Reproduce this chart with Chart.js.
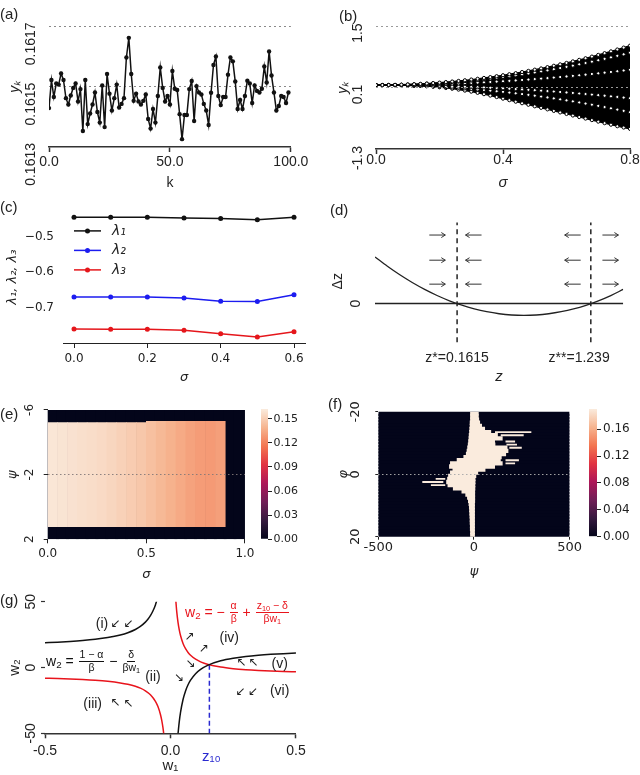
<!DOCTYPE html>
<html><head><meta charset="utf-8">
<script src="https://cdn.jsdelivr.net/npm/chart.js@4.4.1/dist/chart.umd.min.js"></script>
<style>
html,body{margin:0;padding:0;background:#fff;}
#wrap{position:relative;width:640px;height:775px;overflow:hidden;background:#fff;}
canvas{position:absolute;}
.plab{position:absolute;font:15px 'Liberation Sans',Arial,sans-serif;line-height:16px;color:#222;}
.eq{position:absolute;font:14px 'Liberation Sans',Arial,sans-serif;white-space:nowrap;display:flex;align-items:center;}
.fr{display:inline-flex;flex-direction:column;align-items:center;font-size:10.5px;line-height:1.1;margin:0 1px;}
.fr>span:first-child{border-bottom:1px solid currentColor;padding:0 1px;}
sub{font-size:0.7em;vertical-align:-0.25em;line-height:0;}
</style></head>
<body><div id="wrap">
<canvas id="cA"></canvas><canvas id="cB"></canvas><canvas id="cC"></canvas><canvas id="cD"></canvas>
<canvas id="cE"></canvas><canvas id="cEbar"></canvas><canvas id="cF"></canvas><canvas id="cFbar"></canvas>
<canvas id="cG"></canvas>
<div class="plab" style="left:0;top:6px">(a)</div>
<div class="plab" style="left:339px;top:8px">(b)</div>
<div class="plab" style="left:0;top:199px">(c)</div>
<div class="plab" style="left:330px;top:202px">(d)</div>
<div class="plab" style="left:0;top:406px">(e)</div>
<div class="plab" style="left:328px;top:396px">(f)</div>
<div class="plab" style="left:0;top:592px">(g)</div>
<div class="eq" style="left:46px;top:647px;height:28px;color:#111">
 <span>w<sub>2</sub>&nbsp;=&nbsp;</span><span class="fr"><span>1 − α</span><span>β</span></span><span>&nbsp;−&nbsp;</span><span class="fr"><span>δ</span><span>βw<sub>1</sub></span></span>
</div>
<div class="eq" style="left:185px;top:598px;height:28px;color:#e8141c">
 <span>w<sub>2</sub>&nbsp;=&nbsp;−&nbsp;</span><span class="fr"><span>α</span><span>β</span></span><span>&nbsp;+&nbsp;</span><span class="fr"><span>z<sub>10</sub> − δ</span><span>βw<sub>1</sub></span></span>
</div>
</div>
<script>
// ---------------- DATA ----------------
// (a)
const kA = [0,1,2,3,4,5,6,7,8,9,10,11,12,13,14,15,16,17,18,19,20,21,22,23,24,25,26,27,28,29,30,31,32,33,34,35,36,37,38,39,40,41,42,43,44,45,46,47,48,49,50,51,52,53,54,55,56,57,58,59,60,61,62,63,64,65,66,67,68,69,70,71,72,73,74,75,76,77,78,79,80,81,82,83,84,85,86,87,88,89,90,91,92,93,94,95,96,97,98,99];
const yA = [0.161429,0.161522,0.161466,0.161511,0.161507,0.161544,0.161522,0.161462,0.161441,0.161471,
0.161496,0.161511,0.161451,0.161492,0.161353,0.161522,0.161376,0.161411,0.161441,0.161481,
0.161416,0.161381,0.161504,0.161366,0.161542,0.161477,0.161421,0.161462,0.161507,0.161431,
0.161443,0.161462,0.161597,0.161662,0.161542,0.161453,0.161477,0.161451,0.161441,0.161453,
0.161474,0.161393,0.161361,0.161426,0.161381,0.161469,0.161564,0.161496,0.161451,0.161469,
0.161441,0.161552,0.161493,0.161489,0.161409,0.161326,0.161406,0.161406,0.161492,0.161519,
0.161386,0.161502,0.161481,0.161474,0.161443,0.161421,0.161373,0.161480,0.161572,0.161600,
0.161469,0.161439,0.161466,0.161466,0.161540,0.161597,0.161584,0.161517,0.161426,0.161456,
0.161426,0.161469,0.161520,0.161511,0.161446,0.161504,0.161486,0.161481,0.161493,0.161567,
0.161514,0.161617,0.161537,0.161481,0.161421,0.161436,0.161469,0.161466,0.161446,0.161481];
const xTicksA = [0, 50, 100];
const yTicksA = [0.1613, 0.1615, 0.1617];

// (b)
const sigmaB = [0,0.02,0.04,0.06,0.08,0.1,0.12,0.14,0.16,0.18,0.2,0.22,0.24,0.26,0.28,0.3,0.32,0.34,0.36,0.38,0.4,0.42,0.44,0.46,0.48,0.5,0.52,0.54,0.56,0.58,0.6,0.62,0.64,0.66,0.68,0.7,0.72,0.74,0.76,0.78,0.8];
const yB1 = [0.16,0.161,0.162,0.165,0.169,0.174,0.18,0.188,0.196,0.206,0.216,0.228,0.241,0.255,0.27,0.287,0.304,0.323,0.342,0.363,0.385,0.408,0.432,0.458,0.484,0.512,0.54,0.57,0.601,0.633,0.666,0.701,0.736,0.773,0.81,0.849,0.889,0.93,0.972,1.016,1.06];
const yB2 = [0.16,0.16,0.162,0.164,0.167,0.172,0.177,0.183,0.19,0.197,0.206,0.216,0.227,0.238,0.251,0.264,0.278,0.294,0.31,0.327,0.345,0.364,0.384,0.405,0.426,0.449,0.473,0.497,0.523,0.549,0.576,0.604,0.634,0.664,0.695,0.727,0.759,0.793,0.828,0.863,0.9];
const yB3 = [0.16,0.16,0.161,0.162,0.164,0.165,0.168,0.171,0.174,0.178,0.182,0.186,0.192,0.197,0.203,0.209,0.216,0.223,0.231,0.239,0.248,0.256,0.266,0.276,0.286,0.297,0.308,0.319,0.332,0.344,0.357,0.37,0.384,0.398,0.413,0.428,0.444,0.459,0.476,0.493,0.51];
const yB4 = [0.16,0.16,0.159,0.158,0.157,0.155,0.153,0.151,0.148,0.145,0.141,0.137,0.133,0.128,0.123,0.118,0.112,0.106,0.099,0.092,0.085,0.077,0.069,0.061,0.052,0.043,0.033,0.023,0.013,0.002,-0.009,-0.02,-0.032,-0.044,-0.057,-0.07,-0.083,-0.097,-0.111,-0.125,-0.14];
const yB5 = [0.16,0.16,0.158,0.157,0.154,0.15,0.146,0.141,0.135,0.129,0.121,0.113,0.104,0.095,0.084,0.073,0.061,0.048,0.034,0.02,0.005,-0.011,-0.028,-0.045,-0.063,-0.082,-0.102,-0.122,-0.144,-0.166,-0.189,-0.212,-0.237,-0.262,-0.288,-0.315,-0.342,-0.37,-0.4,-0.429,-0.46];
const yB6 = [0.16,0.16,0.159,0.158,0.156,0.153,0.148,0.142,0.134,0.124,0.11,0.094,0.076,0.056,0.034,0.01,-0.018,-0.048,-0.08,-0.114,-0.15,-0.185,-0.22,-0.255,-0.29,-0.325,-0.36,-0.395,-0.43,-0.465,-0.5,-0.535,-0.57,-0.605,-0.64,-0.675,-0.71,-0.745,-0.78,-0.81,-0.84];
const xTicksB = [0, 0.4, 0.8];
const yTicksB = [-1.3, 0.1, 1.5];

// (c)
const sigmaC = [0, 0.1, 0.2, 0.3, 0.4, 0.5, 0.6];
const lam1 = [-0.443,-0.443,-0.443,-0.445,-0.447,-0.450,-0.443];
const lam2 = [-0.670,-0.670,-0.670,-0.673,-0.682,-0.683,-0.664];
const lam3 = [-0.761,-0.762,-0.762,-0.765,-0.775,-0.784,-0.769];
const lamNames = ['λ₁','λ₂','λ₃'];
const xTicksC = [0, 0.2, 0.4, 0.6];
const yTicksC = [-0.7, -0.6, -0.5];

// (d)
const zD  = [-0.5,-0.4,-0.3,-0.2,-0.1,0,0.1,0.2,0.3,0.4,0.5,0.6,0.7,0.8,0.9,1.0,1.1,1.2,1.3,1.4,1.5];
const dzD = [1.150,0.920,0.710,0.520,0.350,0.200,0.070,-0.040,-0.130,-0.200,-0.250,-0.280,-0.290,-0.280,-0.250,-0.200,-0.131,-0.041,0.069,0.199,0.349];
const fixedPtsD = [0.1615, 1.239];
const fixedLabelsD = ['z*=0.1615', 'z**=1.239      '];
const dashSpanD = [-0.95, 2.0];
const arrowZD = [0.002, 0.294, 1.093, 1.397];
const arrowDirD = [1, -1, -1, 1];
const arrowRowD = [1.69, 1.07, 0.48];

// (e)
const sigmaColsE = [0.025,0.075,0.125,0.175,0.225,0.275,0.325,0.375,0.425,0.475,0.525,0.575,0.625,0.675,0.725,0.775,0.825,0.875,0.925,0.975];
const heatValE   = [0.160,0.159,0.158,0.157,0.156,0.155,0.153,0.151,0.149,0.147,0.144,0.141,0.138,0.135,0.132,0.130,0.129,0.131,null,null];
const topEdgeE   = [-5.22,-5.22,-5.22,-5.22,-5.22,-5.22,-5.22,-5.22,-5.22,-5.22,-5.3,-5.3,-5.3,-5.3,-5.3,-5.3,-5.3,-5.3,null,null];
const botEdgeE   = [1.22,1.22,1.22,1.22,1.22,1.22,1.22,1.22,1.22,1.22,1.22,1.22,1.22,1.22,1.22,1.22,1.22,1.22,null,null];
const psiSpanE = [-6, 2];
const xTicksE = [0, 0.5, 1];
const yTicksE = [-6, -2, 2];
const vmaxE = 0.162;
const cbTicksE = [0, 0.03, 0.06, 0.09, 0.12, 0.15];

// (f)
const phiRowsF = [-19.5,-18.5,-17.5,-16.5,-15.5,-14.5,-13.5,-12.5,-11.5,-10.5,-9.5,-8.5,-7.5,-6.5,-5.5,-4.5,-3.5,-2.5,-1.5,-0.5,0.5,1.5,2.5,3.5,4.5,5.5,6.5,7.5,8.5,9.5,10.5,11.5,12.5,13.5,14.5,15.5,16.5,17.5,18.5,19.5];
const mainLF = [-20,-20,-20,-22,-22,-24,-25,-27,-28,-30,-32,-35,-38,-42,-55,-90,-125,-130,-112,-125,-135,-140,-145,-138,-110,-65,-45,-36,-31,-28,-26,-25,-24,-23,-22,-22,-21,-21,-20,-20];
const mainRF = [25,25,27,32,42,58,90,125,150,110,112,175,180,168,145,140,150,110,60,22,12,8,8,7,7,6,6,6,6,5,5,5,5,5,5,5,5,5,5,5];
const fingerLF = [null,null,null,null,null,null,110,140,null,165,170,185,null,null,null,165,165,null,null,null,null,-200,-270,-225,null,null,null,null,null,null,null,null,null,null,null,null,null,null,null,null];
const fingerRF = [null,null,null,null,null,null,300,260,null,215,225,250,null,null,null,235,215,null,null,null,null,-150,-160,-150,null,null,null,null,null,null,null,null,null,null,null,null,null,null,null,null];
const psiSpanF = [-500, 500];
const xTicksF = [-500, 0, 500];
const yTicksF = [-20, 0, 20];
const vmaxF = 0.19;
const cbTicksF = [0, 0.04, 0.08, 0.12, 0.16];

// (g)
const w1BlackL = [-0.5,-0.45,-0.4,-0.35,-0.3,-0.25,-0.2,-0.17,-0.14,-0.12,-0.1,-0.09,-0.08,-0.07,-0.06,-0.055];
const w2BlackL = [18.82,19.26,19.8,20.5,21.43,22.74,24.7,26.43,28.9,31.23,34.5,36.68,39.4,42.9,47.57,50.54];
const w1BlackR = [0.03,0.035,0.04,0.05,0.06,0.07,0.08,0.1,0.12,0.15,0.2,0.25,0.3,0.35,0.4,0.45,0.5];
const w2BlackR = [-50.43,-41.1,-34.1,-24.3,-17.77,-13.1,-9.6,-4.7,-1.43,1.83,5.1,7.06,8.37,9.3,10.0,10.54,10.98];
const w1RedR = [0.021,0.025,0.03,0.035,0.04,0.05,0.06,0.07,0.08,0.1,0.12,0.15,0.2,0.25,0.3,0.35,0.4,0.45,0.5];
const w2RedR = [51.44,42.3,34.3,28.59,24.3,18.3,14.3,11.44,9.3,6.3,4.3,2.3,0.3,-0.9,-1.7,-2.27,-2.7,-3.03,-3.3];
const w1RedL = [-0.5,-0.45,-0.4,-0.35,-0.3,-0.25,-0.2,-0.17,-0.14,-0.12,-0.1,-0.08,-0.06,-0.05,-0.04,-0.035,-0.03,-0.026];
const w2RedL = [-8.1,-8.37,-8.7,-9.13,-9.7,-10.5,-11.7,-12.76,-14.27,-15.7,-17.7,-20.7,-25.7,-29.7,-35.7,-39.99,-45.7,-51.85];
const z10G = 0.155, z10W2G = 2.1;
const regionLabelsG = ['(i)','(ii)','(iii)','(iv)','(v)','(vi)'];
const regionW1G = [-0.273,-0.07,-0.31,0.234,0.435,0.435];
const regionW2G = [33,-7.6,-27.6,22.3,2.6,-17.7];
const arrowGlyphG = ['↙','↙','↖','↖','↗','↗','↘','↘','↖','↖','↙','↙'];
const arrowW1G = [-0.22,-0.168,-0.22,-0.168,0.077,0.134,0.081,0.035,0.282,0.33,0.278,0.328];
const arrowW2G = [33.2,33.2,-26.8,-27.6,23.3,14,3,-7.6,3.8,3.8,-18.2,-18.2];
const xTicksG = [-0.5, 0, 0.5];
const yTicksG = [-50, 0, 50];

// ---------------- HELPERS ----------------
const RF = "'Liberation Sans', Arial, sans-serif";
const MF = "'DejaVu Sans', sans-serif";
Chart.defaults.animation = false;
Chart.defaults.responsive = false;
Chart.defaults.devicePixelRatio = 1;
Chart.defaults.events = [];
Chart.defaults.color = '#222';
Chart.defaults.plugins.legend.display = false;
Chart.defaults.plugins.tooltip.enabled = false;

function setupCanvas(id, L, T, W, H){
  const c = document.getElementById(id);
  c.width = W; c.height = H;
  c.style.left = L + 'px'; c.style.top = T + 'px';
  c.style.width = W + 'px'; c.style.height = H + 'px';
  return c;
}
const fixW = w => s => { s.width = w; };
const fixH = h => s => { s.height = h; };
const setTicks = vals => s => { s.ticks = vals.map(v => ({value: v})); };
const pts = (xs, ys) => xs.map((x, i) => ({x: x, y: ys[i]}));

const ROCKET = [[0,[3,5,26]],[1/7,[53,25,62]],[2/7,[112,31,87]],[3/7,[173,23,89]],[4/7,[225,51,66]],[5/7,[243,118,81]],[6/7,[246,180,143]],[1,[250,235,221]]];
function rocket(t){
  t = Math.max(0, Math.min(1, t));
  for (let i = 1; i < ROCKET.length; i++){
    if (t <= ROCKET[i][0]){
      const t0 = ROCKET[i-1][0], c0 = ROCKET[i-1][1], t1 = ROCKET[i][0], c1 = ROCKET[i][1];
      const f = (t - t0) / (t1 - t0);
      return 'rgb(' + c0.map((v, j) => Math.round(v + (c1[j] - v) * f)).join(',') + ')';
    }
  }
  return 'rgb(250,235,221)';
}
function rocketGradient(ctx){
  const ch = ctx.chart, ca = ch.chartArea;
  if (!ca) return '#000';
  const g = ch.ctx.createLinearGradient(0, ca.bottom, 0, ca.top);
  ROCKET.forEach(([t, c]) => g.addColorStop(t, 'rgb(' + c.join(',') + ')'));
  return g;
}

// ---------------- (a) ----------------
new Chart(setupCanvas('cA', 0, 0, 310, 192), {
  type: 'line',
  data: { datasets: [{ data: pts(kA, yA), borderColor: '#111', borderWidth: 1.5, pointRadius: 2.2,
    pointBackgroundColor: '#111', pointBorderWidth: 0, tension: 0 }] },
  options: {
    layout: { padding: {left: 0, top: 14, right: 17, bottom: 0}, autoPadding: false },
    scales: {
      x: { type: 'linear', min: 0, max: 100, afterBuildTicks: setTicks(xTicksA), afterFit: fixH(45),
        ticks: { callback: v => v.toFixed(1), font: {family: RF, size: 14}, padding: 1.6, maxRotation: 0, autoSkip: false, color: '#222' },
        grid: { drawOnChartArea: false, drawTicks: true, tickLength: 5, tickWidth: 1.5, tickColor: '#333' },
        border: { display: true, color: '#333', width: 1.5 },
        title: { display: true, text: 'k', font: {family: RF, size: 14}, padding: {top: 0, bottom: 0.6} } },
      y: { type: 'linear', min: 0.1613, max: 0.1617, afterBuildTicks: setTicks(yTicksA), afterFit: fixW(49),
        ticks: { callback: v => v.toFixed(4), font: {family: RF, size: 14}, padding: 18, minRotation: 90, maxRotation: 90, labelOffset: -4, autoSkip: false },
        grid: { drawTicks: false, lineWidth: 1, color: c => (c.tick && c.tick.value > 0.16131) ? '#8a8a8a' : 'rgba(0,0,0,0)' },
        border: { display: false, dash: [2, 3] },
        title: { display: true, text: 'yₖ', font: {family: RF, size: 14, style: 'italic'}, padding: {top: 6.6, bottom: 0} } }
    }
  }
});

// ---------------- (b) ----------------
const bLines = [yB1, yB2, yB3, yB4, yB5, yB6];
new Chart(setupCanvas('cB', 320, 0, 320, 192), {
  type: 'line',
  data: { datasets: bLines.map((ys, i) => ({
    data: pts(sigmaB, ys), borderColor: '#000', borderWidth: 1.2, pointRadius: 1.6, pointBorderWidth: 1,
    pointBorderColor: '#000', pointBackgroundColor: '#fff', tension: 0,
    fill: i === 0 ? {target: 5} : false, backgroundColor: '#000'
  })) },
  options: {
    layout: { padding: {left: 0, top: 14.3, right: 10, bottom: 0}, autoPadding: false },
    plugins: { filler: { drawTime: 'beforeDatasetsDraw' } },
    scales: {
      x: { type: 'linear', min: 0, max: 0.8, afterBuildTicks: setTicks(xTicksB), afterFit: fixH(43),
        ticks: { callback: v => v.toFixed(1), font: {family: RF, size: 14}, padding: -2, maxRotation: 0, autoSkip: false },
        grid: { drawOnChartArea: false, drawTicks: true, tickLength: 5, tickWidth: 1.5, tickColor: '#333' },
        border: { display: true, color: '#333', width: 1.5 },
        title: { display: true, text: 'σ', font: {family: RF, size: 15, style: 'italic'}, padding: {top: 0, bottom: 0} } },
      y: { type: 'linear', min: -1.3, max: 1.5, afterBuildTicks: setTicks(yTicksB), afterFit: fixW(56),
        ticks: { callback: v => v.toFixed(1), font: {family: RF, size: 14}, padding: 18, minRotation: 90, maxRotation: 90, labelOffset: -3, autoSkip: false },
        grid: { z: 1, drawTicks: false, lineWidth: 1, color: c => (c.tick && c.tick.value > -1.2) ? '#9a9a9a' : 'rgba(0,0,0,0)' },
        border: { display: false, dash: [2, 3] },
        title: { display: true, text: 'yₖ', font: {family: RF, size: 14, style: 'italic'}, padding: {top: 14.6, bottom: 0} } }
    }
  }
});

// ---------------- (c) ----------------
const legendC = { id: 'legC', afterDatasetsDraw(chart){
  const ctx = chart.ctx, ca = chart.chartArea;
  chart.data.datasets.forEach((ds, i) => {
    const y = ca.top + 19.7 + i * 19.5;
    ctx.save();
    ctx.strokeStyle = ds.borderColor; ctx.lineWidth = 1.5;
    ctx.beginPath(); ctx.moveTo(ca.left + 11, y); ctx.lineTo(ca.left + 38, y); ctx.stroke();
    ctx.fillStyle = ds.borderColor; ctx.beginPath(); ctx.arc(ca.left + 24.5, y, 2.5, 0, 2 * Math.PI); ctx.fill();
    ctx.fillStyle = '#222'; ctx.font = 'italic 14px ' + MF; ctx.textBaseline = 'middle'; ctx.textAlign = 'left';
    ctx.fillText(ds.label, ca.left + 49, y);
    ctx.restore();
  });
}};
const cColors = ['#111111', '#1c1cf0', '#e5161b'];
new Chart(setupCanvas('cC', 0, 195, 310, 195), {
  type: 'line',
  data: { datasets: [lam1, lam2, lam3].map((ys, i) => ({
    label: lamNames[i], data: pts(sigmaC, ys), borderColor: cColors[i], backgroundColor: cColors[i],
    borderWidth: 1.5, pointRadius: 2.5, pointBorderWidth: 0, pointBackgroundColor: cColors[i], tension: 0 })) },
  options: {
    layout: { padding: {left: 0, top: 13, right: 5, bottom: 0}, autoPadding: false },
    scales: {
      x: { type: 'linear', min: -0.03, max: 0.63, afterBuildTicks: setTicks(xTicksC), afterFit: fixH(47),
        ticks: { callback: v => v.toFixed(1), font: {family: MF, size: 12}, padding: 4, maxRotation: 0, autoSkip: false },
        grid: { drawOnChartArea: false, drawTicks: true, tickLength: 5, tickWidth: 1, tickColor: '#222' },
        border: { display: true, color: '#222', width: 1 },
        title: { display: true, text: 'σ', font: {family: MF, size: 13, style: 'italic'}, padding: {top: 0, bottom: 4.2} } },
      y: { type: 'linear', min: -0.801, max: -0.426, afterBuildTicks: setTicks(yTicksC), afterFit: fixW(63),
        ticks: { callback: v => '−' + Math.abs(v).toFixed(1), font: {family: MF, size: 12}, padding: 9, autoSkip: false },
        grid: { display: false, drawTicks: false }, border: { display: false },
        title: { display: true, text: 'λ₁, λ₂, λ₃', font: {family: MF, size: 13, style: 'italic'}, padding: {top: 5.2, bottom: 0} } }
    }
  },
  plugins: [legendC]
});

// ---------------- (d) ----------------
const arrowsD = { id: 'arrD', afterDatasetsDraw(chart){
  const ctx = chart.ctx, xs = chart.scales.x, ys = chart.scales.y;
  ctx.save(); ctx.strokeStyle = '#333'; ctx.lineWidth = 1;
  arrowRowD.forEach(dz => {
    arrowZD.forEach((z, j) => {
      const cx = xs.getPixelForValue(z), cy = ys.getPixelForValue(dz), d = arrowDirD[j];
      const tip = cx + d * 8;
      ctx.beginPath(); ctx.moveTo(cx - d * 8, cy); ctx.lineTo(tip, cy);
      ctx.moveTo(tip - d * 4, cy - 2.5); ctx.lineTo(tip, cy); ctx.lineTo(tip - d * 4, cy + 2.5); ctx.stroke();
    });
  });
  ctx.restore();
}};
new Chart(setupCanvas('cD', 320, 195, 320, 195), {
  type: 'line',
  data: { datasets: [
    { data: pts(zD, dzD), borderColor: '#222', borderWidth: 1.3, pointRadius: 0, cubicInterpolationMode: 'monotone' },
    { data: pts([zD[0], zD[zD.length - 1]], [0, 0]), borderColor: '#222', borderWidth: 1.5, pointRadius: 0 },
    { data: pts([fixedPtsD[0], fixedPtsD[0]], dashSpanD), borderColor: '#222', borderWidth: 1.5, borderDash: [5, 4], pointRadius: 0 },
    { data: pts([fixedPtsD[1], fixedPtsD[1]], dashSpanD), borderColor: '#222', borderWidth: 1.5, borderDash: [5, 4], pointRadius: 0 }
  ] },
  options: {
    layout: { padding: {left: 0, top: 10, right: 12, bottom: 0}, autoPadding: false },
    scales: {
      x: { type: 'linear', min: -0.5, max: 1.5, afterBuildTicks: setTicks(fixedPtsD), afterFit: fixH(45.8),
        ticks: { callback: (v, i) => fixedLabelsD[i], font: {family: RF, size: 14}, padding: 5.4, maxRotation: 0, autoSkip: false },
        grid: { display: false, drawTicks: false }, border: { display: false },
        title: { display: true, text: 'z', font: {family: RF, size: 15, style: 'italic'}, padding: {top: 0, bottom: 4.2} } },
      y: { type: 'linear', min: -1.0, max: 2.1, afterBuildTicks: setTicks([0]), afterFit: fixW(55),
        ticks: { callback: v => String(v), font: {family: RF, size: 14}, padding: 15, minRotation: 90, maxRotation: 90, crossAlign: 'center', autoSkip: false },
        grid: { display: false, drawTicks: false }, border: { display: false },
        title: { display: true, text: 'Δz', font: {family: RF, size: 14}, padding: {top: 9.6, bottom: 0} } }
    }
  },
  plugins: [arrowsD]
});

// ---------------- (e) ----------------
new Chart(setupCanvas('cE', 0, 395, 258, 190), {
  type: 'bar',
  data: { labels: sigmaColsE, datasets: [
    { data: sigmaColsE.map(() => psiSpanE), backgroundColor: rocket(0), grouped: false, order: 2, borderWidth: 0,
      barPercentage: 1.3, categoryPercentage: 1, inflateAmount: 0 },
    { data: topEdgeE.map((t, i) => t === null ? null : [t, botEdgeE[i]]),
      backgroundColor: heatValE.map(v => v === null ? 'rgba(0,0,0,0)' : rocket(v / vmaxE)),
      grouped: false, order: 1, borderWidth: 0, barPercentage: 1, categoryPercentage: 1 }
  ] },
  options: {
    layout: { padding: {left: 0, top: 14, right: 9.3, bottom: 0}, autoPadding: false },
    scales: {
      x: { type: 'category', display: false },
      x2: { type: 'linear', position: 'bottom', offset: false, min: 0, max: 1, afterBuildTicks: setTicks(xTicksE), afterFit: fixH(45.7),
        ticks: { callback: v => v.toFixed(1), font: {family: MF, size: 12}, padding: 3.5, maxRotation: 0, autoSkip: false },
        grid: { offset: false, drawOnChartArea: false, drawTicks: true, tickLength: 4, tickColor: '#222' }, border: { display: false },
        title: { display: true, text: 'σ', font: {family: MF, size: 13, style: 'italic'}, padding: {top: 0, bottom: 2.8} } },
      y: { type: 'linear', min: -6, max: 2, reverse: true, afterBuildTicks: setTicks(yTicksE), afterFit: fixW(47.7),
        ticks: { callback: v => String(v), font: {family: MF, size: 12}, padding: 7.7, minRotation: 90, maxRotation: 90, crossAlign: 'center', autoSkip: false },
        grid: { z: 1, drawTicks: true, tickLength: 4, tickColor: '#222', lineWidth: 1,
          color: c => (c.tick && c.tick.value === -2) ? 'rgba(130,120,120,0.9)' : 'rgba(0,0,0,0)' },
        border: { display: false, dash: [1.5, 2.5] },
        title: { display: true, text: 'ψ', font: {family: MF, size: 13, style: 'italic'}, padding: {top: 4.8, bottom: 0} } }
    }
  }
});
new Chart(setupCanvas('cEbar', 255, 395, 65, 160), {
  type: 'bar',
  data: { labels: ['cb'], datasets: [{ data: [vmaxE], backgroundColor: rocketGradient, borderWidth: 0, barPercentage: 1, categoryPercentage: 1, inflateAmount: 0 }] },
  options: {
    layout: { padding: {left: 6, top: 14, right: 0, bottom: 15.7}, autoPadding: false },
    scales: {
      x: { type: 'category', display: false },
      y: { type: 'linear', position: 'right', min: 0, max: vmaxE, afterBuildTicks: setTicks(cbTicksE), afterFit: fixW(52),
        ticks: { callback: v => v.toFixed(2), font: {family: MF, size: 11}, padding: 1.5, autoSkip: false },
        grid: { drawOnChartArea: false, drawTicks: true, tickLength: 4, tickColor: '#222' }, border: { display: false } }
    }
  }
});

// ---------------- (f) ----------------
const creamF = rocket(1);
new Chart(setupCanvas('cF', 320, 395, 262, 190), {
  type: 'bar',
  data: { labels: phiRowsF, datasets: [
    { data: phiRowsF.map(() => psiSpanF), backgroundColor: rocket(0), grouped: false, order: 3, borderWidth: 0,
      barPercentage: 1.7, categoryPercentage: 1, inflateAmount: 0 },
    { data: mainLF.map((l, i) => [l, mainRF[i]]), backgroundColor: creamF, grouped: false, order: 2, borderWidth: 0,
      barPercentage: 1.4, categoryPercentage: 1, inflateAmount: 0 },
    { data: fingerLF.map((l, i) => l === null ? null : [l, fingerRF[i]]), backgroundColor: creamF, grouped: false, order: 1, borderWidth: 0,
      barPercentage: 0.6, categoryPercentage: 1 }
  ] },
  options: {
    indexAxis: 'y',
    layout: { padding: {left: 0, top: 14, right: 3.7, bottom: 0}, autoPadding: false },
    scales: {
      y: { type: 'category', display: false },
      x: { type: 'linear', position: 'bottom', min: -500, max: 500, afterBuildTicks: setTicks(xTicksF), afterFit: fixH(48.3),
        ticks: { callback: v => String(v), font: {family: MF, size: 13}, padding: 0, maxRotation: 0, autoSkip: false },
        grid: { drawOnChartArea: false, drawTicks: true, tickLength: 3, tickColor: '#222' }, border: { display: false },
        title: { display: true, text: 'ψ', font: {family: MF, size: 13, style: 'italic'}, padding: {top: 0, bottom: 5.8} } },
      y2: { type: 'linear', position: 'left', offset: false, min: -20, max: 20, reverse: true, afterBuildTicks: setTicks(yTicksF), afterFit: fixW(58.3),
        ticks: { callback: v => String(v), font: {family: MF, size: 13}, padding: 9, minRotation: 90, maxRotation: 90, crossAlign: 'center', autoSkip: false },
        grid: { offset: false, z: 1, drawTicks: true, tickLength: 3, tickColor: '#222', lineWidth: 1,
          color: c => (c.tick && c.tick.value === 0) ? 'rgba(170,170,170,0.95)' : 'rgba(0,0,0,0)' },
        border: { display: false, dash: [1.5, 2.5] },
        title: { display: true, text: 'φ', font: {family: MF, size: 13, style: 'italic'}, padding: {top: 16.3, bottom: 0} } }
    }
  }
});
new Chart(setupCanvas('cFbar', 583, 395, 57, 160), {
  type: 'bar',
  data: { labels: ['cb'], datasets: [{ data: [vmaxF], backgroundColor: rocketGradient, borderWidth: 0, barPercentage: 1, categoryPercentage: 1, inflateAmount: 0 }] },
  options: {
    layout: { padding: {left: 6, top: 14, right: 0, bottom: 18.3}, autoPadding: false },
    scales: {
      x: { type: 'category', display: false },
      y: { type: 'linear', position: 'right', min: 0, max: vmaxF, afterBuildTicks: setTicks(cbTicksF), afterFit: fixW(43),
        ticks: { callback: v => v.toFixed(2), font: {family: MF, size: 12}, padding: 2, autoSkip: false },
        grid: { drawOnChartArea: false, drawTicks: true, tickLength: 4, tickColor: '#222' }, border: { display: false } }
    }
  }
});

// ---------------- (g) ----------------
const annotG = { id: 'annG', afterDatasetsDraw(chart){
  const ctx = chart.ctx, xs = chart.scales.x, ys = chart.scales.y, ca = chart.chartArea;
  ctx.save();
  ctx.textAlign = 'center'; ctx.textBaseline = 'middle'; ctx.fillStyle = '#222';
  ctx.font = '14px ' + RF;
  regionLabelsG.forEach((t, i) => ctx.fillText(t, xs.getPixelForValue(regionW1G[i]), ys.getPixelForValue(regionW2G[i])));
  ctx.font = '12px ' + MF;
  arrowGlyphG.forEach((t, i) => ctx.fillText(t, xs.getPixelForValue(arrowW1G[i]), ys.getPixelForValue(arrowW2G[i])));
  ctx.fillStyle = '#2a2ad0'; ctx.font = '15px ' + RF;
  ctx.fillText('z₁₀', xs.getPixelForValue(z10G) + 2, ca.bottom + 24);
  ctx.restore();
}};
new Chart(setupCanvas('cG', 0, 585, 310, 190), {
  type: 'line',
  data: { datasets: [
    { data: pts(w1BlackL, w2BlackL), borderColor: '#111', borderWidth: 1.5, pointRadius: 0, cubicInterpolationMode: 'monotone', clip: 0 },
    { data: pts(w1BlackR, w2BlackR), borderColor: '#111', borderWidth: 1.5, pointRadius: 0, cubicInterpolationMode: 'monotone', clip: 0 },
    { data: pts(w1RedR, w2RedR), borderColor: '#e8141c', borderWidth: 1.5, pointRadius: 0, cubicInterpolationMode: 'monotone', clip: 0 },
    { data: pts(w1RedL, w2RedL), borderColor: '#e8141c', borderWidth: 1.5, pointRadius: 0, cubicInterpolationMode: 'monotone', clip: 0 },
    { data: pts([z10G, z10G], [z10W2G, -50]), borderColor: '#2a2ad0', borderWidth: 1.5, borderDash: [5, 3], pointRadius: 0, clip: 0 }
  ] },
  options: {
    layout: { padding: {left: 0, top: 16.7, right: 10.7, bottom: 0}, autoPadding: false },
    scales: {
      x: { type: 'linear', min: -0.5, max: 0.5, afterBuildTicks: setTicks(xTicksG), afterFit: fixH(41.7),
        ticks: { callback: v => v.toFixed(1), font: {family: RF, size: 14}, padding: 4.3, maxRotation: 0, autoSkip: false },
        grid: { drawOnChartArea: false, drawTicks: true, tickLength: 5, tickWidth: 1.5, tickColor: '#333' },
        border: { display: true, color: '#333', width: 1.5 },
        title: { display: true, text: 'w₁', font: {family: RF, size: 15}, padding: {top: 0, bottom: 0} } },
      y: { type: 'linear', min: -50, max: 50, afterBuildTicks: setTicks(yTicksG), afterFit: fixW(45),
        ticks: { callback: v => String(v), font: {family: RF, size: 14}, padding: 0, minRotation: 90, maxRotation: 90, crossAlign: 'center', autoSkip: false },
        grid: { drawOnChartArea: false, drawTicks: true, tickLength: 4, tickWidth: 1.2, tickColor: '#333' },
        border: { display: false },
        title: { display: true, text: 'w₂', font: {family: RF, size: 15}, padding: {top: 5.6, bottom: 0} } }
    }
  },
  plugins: [annotG]
});
</script>
</body></html>
